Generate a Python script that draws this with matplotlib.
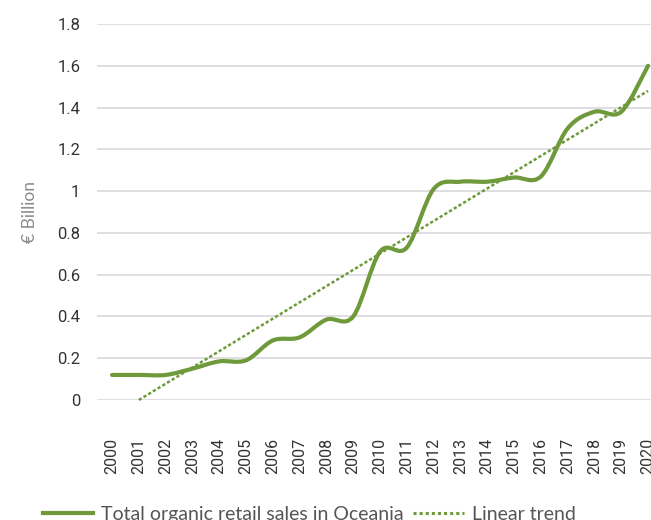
import matplotlib
matplotlib.use('Agg')
import matplotlib.pyplot as plt
from matplotlib.path import Path
from matplotlib.patches import PathPatch
from matplotlib.lines import Line2D
import numpy as np

years = list(range(2000, 2021))
sales = [0.12, 0.12, 0.12, 0.15, 0.185, 0.19, 0.285, 0.30, 0.385, 0.40,
         0.71, 0.73, 1.01, 1.045, 1.045, 1.065, 1.07, 1.30, 1.38, 1.38, 1.60]
trend_years = [2001, 2020]
trend_values = [0.0, 1.48]
y_ticks = [0, 0.2, 0.4, 0.6, 0.8, 1, 1.2, 1.4, 1.6, 1.8]
y_labels = ['0', '0.2', '0.4', '0.6', '0.8', '1', '1.2', '1.4', '1.6', '1.8']

green = '#6f9a3c'


def smooth_path(xs, ys):
    # Excel style smoothed line: bezier segments with catmull-rom control points
    pts = np.column_stack([xs, ys]).astype(float)
    verts = [pts[0]]
    codes = [Path.MOVETO]
    n = len(pts)
    for i in range(n - 1):
        p0 = pts[max(i - 1, 0)]
        p1 = pts[i]
        p2 = pts[i + 1]
        p3 = pts[min(i + 2, n - 1)]
        c1 = p1 + (p2 - p0) / 6.0
        c2 = p2 - (p3 - p1) / 6.0
        verts += [c1, c2, p2]
        codes += [Path.CURVE4] * 3
    return Path(verts, codes)


fig = plt.figure(figsize=(6.51, 5.2), dpi=100)
ax = fig.add_axes([97 / 651, 1 - 400 / 520, 554 / 651, 376 / 520])

x = np.arange(len(years))
for yt in y_ticks:
    ax.axhline(yt, color='#dcdce0', linewidth=1.3, zorder=1)

ax.add_patch(PathPatch(smooth_path(x, sales), facecolor='none', edgecolor=green,
                       linewidth=3, capstyle='round', zorder=3, clip_on=False))
tx = [years.index(t) for t in trend_years]
ax.plot(tx, trend_values, color=green, linewidth=1.8, linestyle=(0, (1.3, 0.9)),
        zorder=2, clip_on=False)

ax.set_xlim(-0.56, 20.11)
ax.set_ylim(0, 1.8)
for s in ax.spines.values():
    s.set_visible(False)
ax.tick_params(length=0)
ax.set_yticks(y_ticks)
ax.set_yticklabels(y_labels, fontsize=12, family=['Roboto', 'DejaVu Sans'], color='#333333')
ax.tick_params(axis='y', pad=12)
ax.set_xticks(x)
ax.set_xticklabels([str(y) for y in years], rotation=90, fontsize=11.5,
                   family=['Liberation Sans Narrow', 'Roboto', 'DejaVu Sans'],
                   color='#333333', va='top')
ax.tick_params(axis='x', pad=27)
ax.set_ylabel('€ Billion', fontsize=12.5, color='#8a8a8a', family=['Lato', 'DejaVu Sans'],
              labelpad=14)

handles = [Line2D([], [], color=green, linewidth=3),
           Line2D([], [], color=green, linewidth=2.2, linestyle=(0, (1, 1)))]
fig.legend(handles, ['Total organic retail sales in Oceania', 'Linear trend'],
           loc='lower center', bbox_to_anchor=(0.475, -0.04), ncol=2, frameon=False,
           handlelength=2.6, handletextpad=0.4, columnspacing=0.5,
           prop={'family': ['Lato', 'DejaVu Sans'], 'size': 14})
for t in fig.legends[0].get_texts():
    t.set_color('#555555')

fig.savefig('out.png', dpi=100)
